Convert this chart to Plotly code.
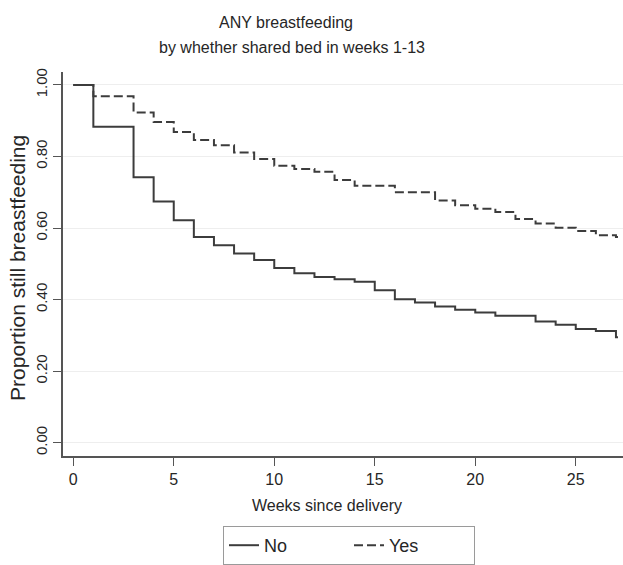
import plotly.graph_objects as go

# ---- data ----
weeks = [0, 1, 2, 3, 4, 5, 6, 7, 8, 9, 10, 11, 12, 13, 14, 15, 16, 17, 18, 19,
         20, 21, 22, 23, 24, 25, 26, 27, 27.1]
surv_no = [1.000, 0.883, 0.883, 0.742, 0.674, 0.622, 0.575, 0.552, 0.529, 0.511,
           0.488, 0.474, 0.463, 0.457, 0.450, 0.426, 0.401, 0.392, 0.381, 0.372,
           0.364, 0.355, 0.355, 0.339, 0.330, 0.318, 0.312, 0.295, 0.295]
surv_yes = [1.000, 0.968, 0.968, 0.923, 0.896, 0.868, 0.846, 0.831, 0.811, 0.793,
            0.774, 0.765, 0.757, 0.734, 0.718, 0.718, 0.700, 0.700, 0.677, 0.664,
            0.654, 0.645, 0.625, 0.613, 0.601, 0.592, 0.580, 0.575, 0.575]
x_ticks = [0, 5, 10, 15, 20, 25]
y_ticks = [0.0, 0.2, 0.4, 0.6, 0.8, 1.0]
series_names = ["No", "Yes"]

REG = "Liberation Sans, Arial, sans-serif"
TXT = "#262626"
LINE = "#3c3c3c"

W, H = 623, 565
L, R, T, B = 63, 0, 72, 105
pw, ph = W - L - R, H - T - B


def px_x(p):
    return (p - L) / pw


def px_y(p):
    return (H - B - p) / ph


fig = go.Figure()
fig.add_trace(go.Scatter(x=weeks, y=surv_no, mode="lines", name=series_names[0],
                         line=dict(shape="hv", color=LINE, width=2)))
fig.add_trace(go.Scatter(x=weeks, y=surv_yes, mode="lines", name=series_names[1],
                         line=dict(shape="hv", color=LINE, width=2, dash="9px,4px")))

fig.update_layout(
    width=W, height=H,
    margin=dict(l=L, r=R, t=T, b=B, pad=0),
    paper_bgcolor="white", plot_bgcolor="white",
    showlegend=True,
    legend=dict(orientation="h", x=px_x(223), y=px_y(531), xanchor="left", yanchor="top",
                bordercolor="#9a9a9a", borderwidth=1, entrywidth=80, entrywidthmode="pixels",
                font=dict(family=REG, size=18, color=TXT), bgcolor="white"),
    xaxis=dict(range=[-0.51, 27.35], tickvals=x_ticks, ticks="outside", ticklen=8,
               tickcolor="#555", showline=True, linecolor="#555", linewidth=1.5,
               showgrid=False, zeroline=False,
               tickfont=dict(family=REG, size=16, color=TXT)),
    yaxis=dict(range=[-0.037, 1.036], tickvals=y_ticks, tickformat=".2f", ticks="outside",
               ticklen=8, tickcolor="#555", showline=True, linecolor="#555", linewidth=1.5,
               showgrid=True, gridcolor="#eeeeee", gridwidth=1, zeroline=False,
               tickangle=-90, tickfont=dict(family=REG, size=15, color=TXT)),
    annotations=[
        dict(text="ANY breastfeeding", xref="paper", yref="paper", x=px_x(286), y=px_y(22),
             xanchor="center", yanchor="middle", showarrow=False,
             font=dict(family=REG, size=16, color=TXT)),
        dict(text="by whether shared bed in weeks 1-13", xref="paper", yref="paper",
             x=px_x(292), y=px_y(47), xanchor="center", yanchor="middle", showarrow=False,
             font=dict(family=REG, size=16, color=TXT)),
        dict(text="Weeks since delivery", xref="paper", yref="paper", x=px_x(327), y=px_y(510),
             xanchor="center", yanchor="middle", showarrow=False,
             font=dict(family=REG, size=16, color=TXT)),
        dict(text="Proportion still breastfeeding", xref="paper", yref="paper", x=px_x(18),
             y=px_y(270), xanchor="center", yanchor="middle", showarrow=False, textangle=-90,
             font=dict(family=REG, size=21, color=TXT)),
    ],
)

fig.write_html("out.html")
